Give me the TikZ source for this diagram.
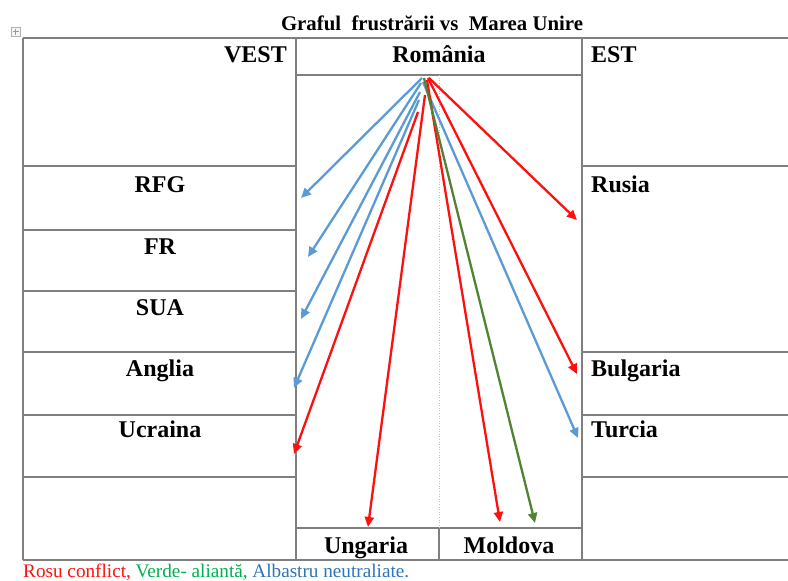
\documentclass[tikz,border=0pt]{standalone}
\usepackage{fontspec}
\setmainfont{Liberation Serif}
\usetikzlibrary{arrows.meta}
\definecolor{tgray}{HTML}{7F7F7F}
\definecolor{ared}{HTML}{FF1010}
\definecolor{ablue}{HTML}{5B9BD5}
\definecolor{agreen}{HTML}{548235}
\definecolor{lgreen}{HTML}{00B050}
\definecolor{lblue}{HTML}{2E75B6}
\tikzset{
  grid/.style={draw=tgray, line width=1.3pt},
  lbl/.style={inner sep=0pt, font=\fontsize{24}{28}\selectfont\bfseries},
  arr/.style={line width=2.3pt, -{Triangle[length=10pt,width=9pt]}},
  redarr/.style={arr, draw=ared, color=ared},
  bluearr/.style={arr, draw=ablue, color=ablue},
  greenarr/.style={arr, draw=agreen, color=agreen},
}
\begin{document}
\begin{tikzpicture}[x=1pt,y=-1pt]
\useasboundingbox (0,0) rectangle (788,581);
\fill[white] (0,0) rectangle (788,581);
% table handle
\draw[draw=gray!60, line width=0.6pt, fill=gray!8] (11,27) rectangle (20,36);
\draw[draw=gray!80, line width=0.6pt] (15.5,28.5) -- (15.5,34.5) (12.5,31.5) -- (18.5,31.5);
% title
\node[inner sep=0pt, anchor=base, font=\fontsize{20.8}{24}\selectfont\bfseries] (title) at (432,30) {Graful\ \ frustrării vs\ \ Marea Unire};
% grid
\draw[grid] (23,38) -- (788,38);
\draw[grid] (23,560) -- (788,560);
\draw[grid] (23,38) -- (23,560);
\draw[grid] (296,38) -- (296,560);
\draw[grid] (582,38) -- (582,560);
\draw[grid] (296,75) -- (582,75);
\draw[grid] (296,528) -- (582,528);
\draw[grid] (439,528) -- (439,560);
\draw[draw=gray!50, line width=0.6pt, dotted] (439,75) -- (439,528);
\foreach \yy in {166,230,291,352,415,477} \draw[grid] (23,\yy) -- (296,\yy);
\foreach \yy in {166,352,415,477} \draw[grid] (582,\yy) -- (788,\yy);
% labels
\node[lbl, anchor=base east] (vest) at (287,62) {VEST};
\node[lbl, anchor=base] (romania) at (439,62) {România};
\node[lbl, anchor=base west] (est) at (591,62) {EST};
\node[lbl, anchor=base] (rfg) at (160,192) {RFG};
\node[lbl, anchor=base] (fr) at (160,254) {FR};
\node[lbl, anchor=base] (sua) at (160,315) {SUA};
\node[lbl, anchor=base] (anglia) at (160,376) {Anglia};
\node[lbl, anchor=base] (ucraina) at (160,437) {Ucraina};
\node[lbl, anchor=base west] (rusia) at (591,192) {Rusia};
\node[lbl, anchor=base west] (bulgaria) at (591,376) {Bulgaria};
\node[lbl, anchor=base west] (turcia) at (591,437) {Turcia};
\node[lbl, anchor=base] (ungaria) at (366,553) {Ungaria};
\node[lbl, anchor=base] (moldova) at (509,553) {Moldova};
% legend
\node[inner sep=0pt, anchor=base west, font=\fontsize{19.2}{22}\selectfont] (legend) at (23,577)
  {\textcolor{ared}{Rosu conflict,} \textcolor{lgreen}{Verde- aliantă,} \textcolor{lblue}{Albastru neutraliate.}};
% arrow coordinates
\coordinate (sRFG) at (422,78);   \coordinate (tRFG) at (301,198);
\coordinate (sFR) at (421,83);    \coordinate (tFR) at (308,257);
\coordinate (sSUA) at (420,92);   \coordinate (tSUA) at (301,319);
\coordinate (sANG) at (419,100);  \coordinate (tANG) at (294,388);
\coordinate (sUCR) at (418,112);  \coordinate (tUCR) at (294,454);
\coordinate (sUNG) at (425,95);   \coordinate (tUNG) at (368,527);
\coordinate (sMOLr) at (427,80);  \coordinate (tMOLr) at (500,522);
\coordinate (sMOLg) at (424,78);  \coordinate (tMOLg) at (535,523);
\coordinate (sTUR) at (423,82);   \coordinate (tTUR) at (578,438);
\coordinate (sBUL) at (428,78);   \coordinate (tBUL) at (577,374);
\coordinate (sRUS) at (429,78);   \coordinate (tRUS) at (577,220);
% arrows
\draw[bluearr] (sRFG) -- (tRFG);
\draw[bluearr] (sFR) -- (tFR);
\draw[bluearr] (sSUA) -- (tSUA);
\draw[bluearr] (sANG) -- (tANG);
\draw[bluearr] (sTUR) -- (tTUR);
\draw[redarr] (sUCR) -- (tUCR);
\draw[redarr] (sUNG) -- (tUNG);
\draw[redarr] (sMOLr) -- (tMOLr);
\draw[redarr] (sBUL) -- (tBUL);
\draw[redarr] (sRUS) -- (tRUS);
\draw[greenarr] (sMOLg) -- (tMOLg);
\end{tikzpicture}
\end{document}
